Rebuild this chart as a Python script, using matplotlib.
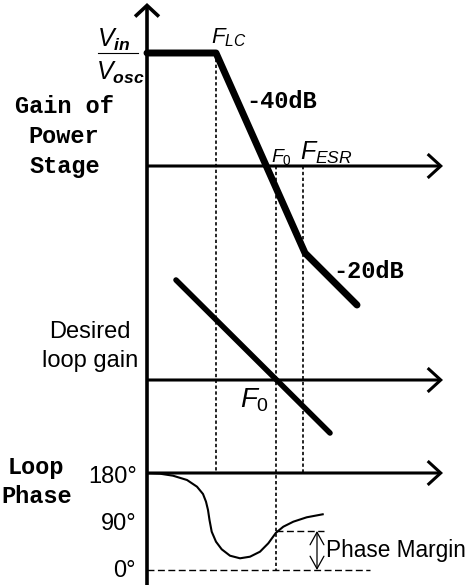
import matplotlib.pyplot as plt

plt.rcParams['mathtext.fontset'] = 'custom'
plt.rcParams['mathtext.it'] = 'Liberation Sans:italic'
plt.rcParams['mathtext.rm'] = 'Liberation Sans'
plt.rcParams['mathtext.bf'] = 'Liberation Sans:italic:bold'

W, H = 471, 585

# diagram geometry, in picture pixels (y grows downwards)
yaxis_x = 147
gain_axis_y = 166
loop_axis_y = 380
phase_axis_y = 473
axis_end_x = 443
zero_deg_y = 570

f_lc, f_0, f_esr = 216, 276, 303

# power stage gain: flat, -40dB slope, then -20dB slope
gain_x = [147, 216, 305, 357]
gain_y = [53, 53, 253, 305]

# desired loop gain, -20dB through F0
loop_x = [176, 330]
loop_y = [280, 433]

# loop phase
phase_x = [148, 160, 173, 187, 197, 203, 206, 208, 209.5, 211.7, 216, 221.7,
           230, 240, 250, 260, 268.3, 276, 283.3, 293.3, 306.7, 322.7]
phase_y = [473.3, 473.7, 475.7, 480, 486.7, 494, 501.7, 510, 520, 531.7, 541.7,
           549.3, 555.7, 558.3, 556.7, 551.7, 543.3, 532.7, 526.7, 521.7, 517.3, 514.3]
pm_y = 531

fig = plt.figure(figsize=(W/100, H/100), dpi=100)
ax = fig.add_axes([0, 0, 1, 1])
ax.set_xlim(0, W)
ax.set_ylim(H, 0)
ax.axis('off')

def arrow(x0, y0, x1, y1, lw, hl, hw):
    ax.annotate('', xy=(x1, y1), xytext=(x0, y0),
                arrowprops=dict(arrowstyle='->,head_length=%.2f,head_width=%.2f' % (hl, hw),
                                lw=lw, color='black', shrinkA=0, shrinkB=0,
                                joinstyle='miter', capstyle='butt'))

# axes
arrow(yaxis_x, H, yaxis_x, 3, 2.6, 0.8, 0.86)
for yy in (gain_axis_y, loop_axis_y, phase_axis_y):
    arrow(yaxis_x, yy, axis_end_x, yy, 2.2, 0.94, 0.86)

# dotted guides
dot = dict(color='black', lw=1.2, ls=(0, (2, 1.5)))
ax.plot([f_lc, f_lc], [gain_y[1], phase_axis_y], **dot)
ax.plot([f_0, f_0], [gain_axis_y, zero_deg_y], **dot)
ax.plot([f_esr, f_esr], [gain_axis_y, phase_axis_y], **dot)

# curves
ax.plot(gain_x, gain_y, color='black', lw=5, solid_capstyle='round', solid_joinstyle='round')
ax.plot(loop_x, loop_y, color='black', lw=4, solid_capstyle='round')
ax.plot(phase_x, phase_y, color='black', lw=1.5, solid_joinstyle='round')

# phase margin
dash = dict(color='black', lw=1.0, ls=(0, (5, 2.5)))
ax.plot([yaxis_x, 370], [zero_deg_y, zero_deg_y], **dash)
ax.plot([f_0, 324], [pm_y, pm_y], **dash)
ax.annotate('', xy=(317, zero_deg_y), xytext=(317, pm_y),
            arrowprops=dict(arrowstyle='<->,head_length=0.9,head_width=0.5',
                            lw=0.9, color='black', shrinkA=0, shrinkB=0))
ax.text(326, 550, 'Phase Margin', fontsize=16.3, family='Liberation Sans', va='center')

# fraction Vin / Vosc
ax.plot([98, 138], [53, 53], color='black', lw=0.8)
ax.text(97, 47, r'$V_{\mathbf{in}}$', fontsize=18, va='baseline')
ax.text(96, 80, r'$V_{\mathbf{osc}}$', fontsize=18, va='baseline')

# frequency labels
ax.text(211, 43, r'$F_{LC}$', fontsize=16, va='baseline')
ax.text(271, 162, r'$F_{\mathit{0}}$', fontsize=14, va='baseline')
ax.text(300, 160, r'$F_{ESR}$', fontsize=18, va='baseline')
ax.text(240, 407, r'$F_{\mathit{0}}$', fontsize=20, va='baseline')

# mono bold labels
mono = dict(family='Liberation Mono', weight='bold', fontsize=17, va='baseline')
ax.text(64, 113, 'Gain of', ha='center', **mono)
ax.text(64, 143, 'Power', ha='center', **mono)
ax.text(65, 173, 'Stage', ha='center', **mono)
ax.text(36, 474, 'Loop', ha='center', **mono)
ax.text(37, 503, 'Phase', ha='center', **mono)
ax.text(246, 108, '-40dB', ha='left', **mono)
ax.text(333, 278, '-20dB', ha='left', **mono)

# sans labels
sans = dict(family='Liberation Sans', va='baseline')
ax.text(90, 338, 'Desired', ha='center', fontsize=17, **sans)
ax.text(90, 367, 'loop gain', ha='center', fontsize=17, **sans)
ax.text(137, 483, '180°', ha='right', fontsize=17, **sans)
ax.text(136, 530, '90°', ha='right', fontsize=17, **sans)
ax.text(136, 577, '0°', ha='right', fontsize=17, **sans)

fig.savefig('out.png', dpi=100)
